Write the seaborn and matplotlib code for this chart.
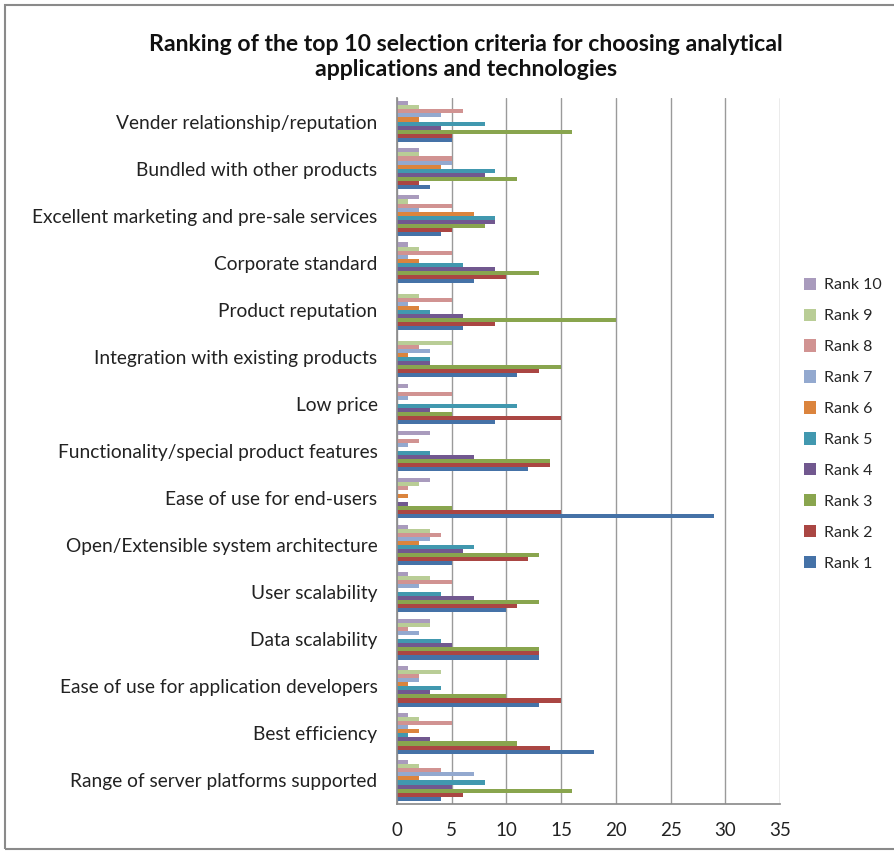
import matplotlib
matplotlib.use("Agg")
import matplotlib.pyplot as plt
import seaborn as sns
import pandas as pd
from matplotlib.patches import Rectangle

categories = [
    "Vender relationship/reputation",
    "Bundled with other products",
    "Excellent marketing and pre-sale services",
    "Corporate standard",
    "Product reputation",
    "Integration with existing products",
    "Low price",
    "Functionality/special product features",
    "Ease of use for end-users",
    "Open/Extensible system architecture",
    "User scalability",
    "Data scalability",
    "Ease of use for application developers",
    "Best efficiency",
    "Range of server platforms supported",
]

rank_1 = [5, 3, 4, 7, 6, 11, 9, 12, 29, 5, 10, 13, 13, 18, 4]
rank_2 = [5, 2, 5, 10, 9, 13, 15, 14, 15, 12, 11, 13, 15, 14, 6]
rank_3 = [16, 11, 8, 13, 20, 15, 5, 14, 5, 13, 13, 13, 10, 11, 16]
rank_4 = [4, 8, 9, 9, 6, 3, 3, 7, 1, 6, 7, 5, 3, 3, 5]
rank_5 = [8, 9, 9, 6, 3, 3, 11, 3, 0, 7, 4, 4, 4, 1, 8]
rank_6 = [2, 4, 7, 2, 2, 1, 0, 0, 1, 2, 0, 0, 1, 2, 2]
rank_7 = [4, 5, 2, 1, 1, 3, 1, 1, 0, 3, 2, 2, 2, 1, 7]
rank_8 = [6, 5, 5, 5, 5, 2, 5, 2, 1, 4, 5, 1, 2, 5, 4]
rank_9 = [2, 2, 1, 2, 2, 5, 0, 0, 2, 3, 3, 3, 4, 2, 2]
rank_10 = [1, 2, 2, 1, 0, 0, 1, 3, 3, 1, 1, 3, 1, 1, 1]

rank_names = ["Rank 10", "Rank 9", "Rank 8", "Rank 7", "Rank 6",
              "Rank 5", "Rank 4", "Rank 3", "Rank 2", "Rank 1"]
rank_values = [rank_10, rank_9, rank_8, rank_7, rank_6,
               rank_5, rank_4, rank_3, rank_2, rank_1]
rank_colors = ["#A99BBD", "#B9CD96", "#D19392", "#93A9CF", "#DB843D",
               "#4198AF", "#71588F", "#89A54E", "#AA4643", "#4572A7"]

rows = []
for name, vals in zip(rank_names, rank_values):
    for cat, v in zip(categories, vals):
        rows.append({"Criterion": cat, "Rank": name, "Count": v})
df = pd.DataFrame(rows)

sns.set_theme(style="white")
plt.rcParams["font.family"] = ["Lato", "DejaVu Sans"]

fig = plt.figure(figsize=(8.94, 8.51), dpi=100)
ax = fig.add_axes([397 / 894, 1 - 804 / 851, (780 - 397) / 894, (804 - 98) / 851])

sns.barplot(data=df, y="Criterion", x="Count", hue="Rank",
            order=categories, hue_order=rank_names,
            palette=dict(zip(rank_names, rank_colors)),
            orient="h", width=0.86, saturation=1, ax=ax, errorbar=None,
            linewidth=0)

ax.set_xlim(0, 35)
ax.set_xticks(range(0, 36, 5))
ax.set_xlabel("")
ax.set_ylabel("")
ax.xaxis.grid(True, color="#9a9a9a", linewidth=1.0)
ax.set_axisbelow(True)
for s in ["top", "right"]:
    ax.spines[s].set_visible(False)
ax.spines["left"].set_color("#8c8c8c")
ax.spines["bottom"].set_color("#8c8c8c")
ax.tick_params(axis="x", labelsize=13.5, colors="#222222", pad=13, length=0)
ax.tick_params(axis="y", labelsize=13.8, colors="#222222", pad=14, length=0)

handles, labels = ax.get_legend_handles_labels()
ax.legend(handles, labels, loc="center left", bbox_to_anchor=(1.045, 0.538),
          frameon=False, fontsize=11.5, handlelength=0.8, handleheight=0.8,
          labelspacing=1.02, handletextpad=0.5, borderaxespad=0)

fig.text(466 / 894, 1 - 57 / 851,
         "Ranking of the top 10 selection criteria for choosing analytical\napplications and technologies",
         ha="center", va="center", fontsize=16.6, fontweight="bold",
         color="#111111", linespacing=1.25)

fig.patches.append(Rectangle((5 / 894, 0.002), 1.2, 1 - 7 / 851, transform=fig.transFigure,
                             fill=False, edgecolor="#8a8a8a", linewidth=1.5))

fig.savefig("out.png", dpi=100)
